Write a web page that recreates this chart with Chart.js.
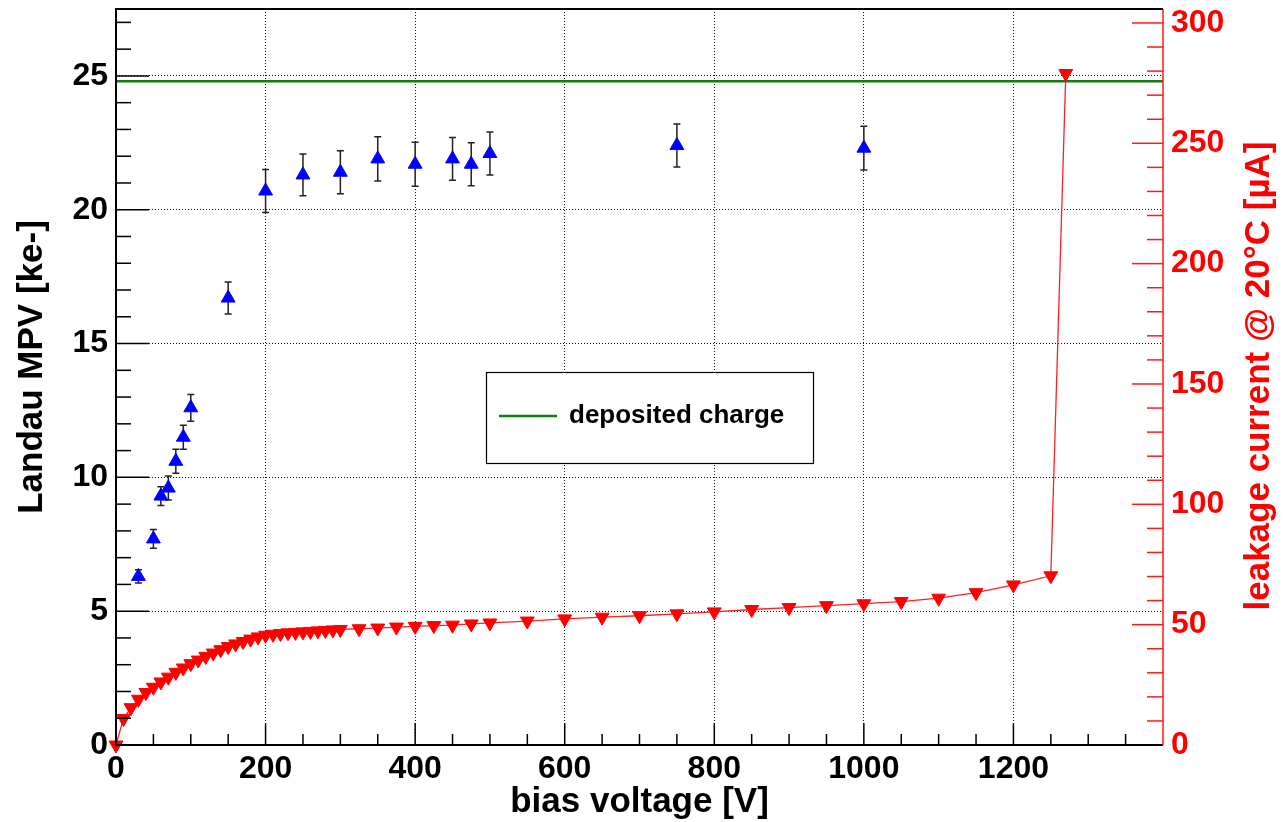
<!DOCTYPE html>
<html>
<head>
<meta charset="utf-8">
<title>Landau MPV and leakage current vs bias voltage</title>
<script src="https://cdn.jsdelivr.net/npm/chart.js@4.4.1/dist/chart.umd.min.js"></script>
<style>
  html, body { margin: 0; padding: 0; background: #fff; }
  canvas { display: block; }
</style>
</head>
<body>
<canvas id="chart" width="1284" height="822"></canvas>
<script>
// Landau most probable value of the collected charge [ke-]
const biasVoltage = [30, 50, 60, 70, 80, 90, 100, 150, 200, 250, 300, 350, 400, 450, 475, 500, 750, 1000];
const landauMpv = [6.3, 7.7, 9.3, 9.6, 10.6, 11.5, 12.6, 16.7, 20.7, 21.3, 21.4, 21.9, 21.7, 21.9, 21.7, 22.1, 22.4, 22.3];
const landauMpvErr = [0.25, 0.35, 0.35, 0.45, 0.45, 0.45, 0.5, 0.6, 0.8, 0.78, 0.8, 0.83, 0.82, 0.8, 0.8, 0.8, 0.8, 0.82];

// IV scan, leakage current at 20°C [µA]
const ivVoltage = [
  0, 10, 20, 30, 40, 50, 60, 70, 80, 90, 100, 110, 120, 130, 140, 150, 160, 170, 180, 190,
  200, 210, 220, 230, 240, 250, 260, 270, 280, 290, 300, 325, 350, 375, 400, 425, 450, 475, 500,
  550, 600, 650, 700, 750, 800, 850, 900, 950, 1000, 1050, 1100, 1150, 1200, 1250, 1270
];
const leakageCurrent = [
  0, 11, 15.5, 19, 21.8, 24, 26.2, 28.2, 30.2, 32, 33.8, 35.3, 36.8, 38.2, 39.6, 40.9, 42, 43, 44, 44.9,
  45.6, 46, 46.3, 46.6, 46.8, 47, 47.2, 47.4, 47.6, 47.8, 48, 48.3, 48.6, 49, 49.3, 49.6, 49.8, 50.3, 50.7,
  51.5, 52.4, 53.1, 53.7, 54.5, 55.3, 56.3, 57.1, 57.9, 58.7, 59.6, 61.0, 63.3, 66.5, 70.3, 279
];

const depositedCharge = 24.8;

const xTickValues = [0, 200, 400, 600, 800, 1000, 1200];
const leftTickValues = [0, 5, 10, 15, 20, 25];
const rightTickValues = [0, 50, 100, 150, 200, 250, 300];

const FONT = '"Liberation Sans", Arial, Helvetica, sans-serif';
const GREEN = '#127d12';

function setTicks(values) {
  return function (scale) {
    scale.ticks = values.map(v => ({ value: v }));
  };
}

// fixed axis box sizes, no extra room for the outermost labels
function fixWidth(w) {
  return function (scale) {
    scale.width = w;
    scale.paddingTop = 0;
    scale.paddingBottom = 0;
  };
}

// ROOT style frame: inner tick marks, axis titles, legend box, error bars
const rootStyle = {
  id: 'rootStyle',
  beforeDatasetsDraw(chart) {
    const { ctx, scales: { x, y } } = chart;
    ctx.save();
    ctx.strokeStyle = '#222';
    ctx.lineWidth = 1.5;
    biasVoltage.forEach((v, i) => {
      const px = x.getPixelForValue(v);
      const top = y.getPixelForValue(landauMpv[i] + landauMpvErr[i]);
      const bot = y.getPixelForValue(landauMpv[i] - landauMpvErr[i]);
      ctx.beginPath();
      ctx.moveTo(px, top); ctx.lineTo(px, bot);
      ctx.moveTo(px - 3.5, top); ctx.lineTo(px + 3.5, top);
      ctx.moveTo(px - 3.5, bot); ctx.lineTo(px + 3.5, bot);
      ctx.stroke();
    });
    ctx.restore();
  },
  afterDatasetsDraw(chart) {
    const { ctx, chartArea: a, scales: { x, y, y1 } } = chart;
    ctx.save();
    ctx.lineCap = 'butt';

    // x axis ticks
    ctx.strokeStyle = '#000';
    ctx.lineWidth = 1.5;
    for (let v = 0; v < x.max; v += 50) {
      const px = x.getPixelForValue(v);
      const len = v % 200 === 0 ? 22 : 11;
      ctx.beginPath(); ctx.moveTo(px, a.bottom); ctx.lineTo(px, a.bottom - len); ctx.stroke();
    }
    // left axis ticks
    for (let v = 0; v < y.max; v += 1) {
      const py = y.getPixelForValue(v);
      const len = v % 5 === 0 ? 33 : 15;
      ctx.beginPath(); ctx.moveTo(a.left, py); ctx.lineTo(a.left + len, py); ctx.stroke();
    }
    // right axis ticks
    ctx.strokeStyle = '#ff1a1a';
    for (let v = 0; v <= 300; v += 10) {
      const py = y1.getPixelForValue(v);
      const len = v % 50 === 0 ? 31 : 16;
      ctx.beginPath(); ctx.moveTo(a.right, py); ctx.lineTo(a.right - len, py); ctx.stroke();
    }

    // frame
    ctx.strokeStyle = '#000';
    ctx.lineWidth = 2;
    ctx.beginPath();
    ctx.moveTo(a.right, a.top); ctx.lineTo(a.left, a.top);
    ctx.lineTo(a.left, a.bottom); ctx.lineTo(a.right, a.bottom);
    ctx.stroke();
    ctx.strokeStyle = '#ff1a1a';
    ctx.lineWidth = 1.5;
    ctx.beginPath(); ctx.moveTo(a.right, a.top); ctx.lineTo(a.right, a.bottom); ctx.stroke();
    ctx.restore();
  },
  afterDraw(chart) {
    const { ctx, chartArea: a } = chart;
    ctx.save();
    ctx.font = 'bold 35px ' + FONT;
    ctx.textAlign = 'center';
    ctx.textBaseline = 'middle';

    // axis titles
    ctx.fillStyle = '#000';
    ctx.fillText('bias voltage [V]', (a.left + a.right) / 2, chart.height - 20);
    ctx.save();
    ctx.translate(32, 367);
    ctx.rotate(-Math.PI / 2);
    ctx.fillText('Landau MPV [ke-]', 0, 0);
    ctx.restore();
    ctx.save();
    ctx.fillStyle = '#ff0000';
    ctx.translate(1259, 376);
    ctx.rotate(-Math.PI / 2);
    ctx.fillText('leakage current @ 20°C [µA]', 0, 0);
    ctx.restore();

    // legend
    const ds = chart.data.datasets[2];
    const bx = 486, by = 372, bw = 327, bh = 91;
    ctx.fillStyle = '#fff';
    ctx.fillRect(bx, by, bw, bh);
    ctx.strokeStyle = '#000';
    ctx.lineWidth = 1.2;
    ctx.strokeRect(bx + 0.5, by + 0.5, bw, bh);
    ctx.strokeStyle = ds.borderColor;
    ctx.lineWidth = 2.5;
    ctx.beginPath(); ctx.moveTo(bx + 13, by + 44); ctx.lineTo(bx + 71, by + 44); ctx.stroke();
    ctx.fillStyle = '#000';
    ctx.font = 'bold 26px ' + FONT;
    ctx.textAlign = 'left';
    ctx.fillText(ds.label, bx + 83, by + 44);
    ctx.restore();
  }
};

new Chart(document.getElementById('chart'), {
  type: 'line',
  data: {
    datasets: [
      {
        label: 'Landau MPV',
        data: biasVoltage.map((v, i) => ({ x: v, y: landauMpv[i] })),
        yAxisID: 'y',
        showLine: false,
        pointStyle: 'triangle',
        pointRadius: 8,
        pointBackgroundColor: '#0000ff',
        pointBorderColor: '#0000ff',
        pointBorderWidth: 1,
        clip: false,
        order: 0
      },
      {
        label: 'leakage current',
        data: ivVoltage.map((v, i) => ({ x: v, y: leakageCurrent[i] })),
        yAxisID: 'y1',
        borderColor: '#ff2020',
        borderWidth: 1.3,
        tension: 0,
        pointStyle: 'triangle',
        pointRotation: 180,
        pointRadius: 8,
        pointBackgroundColor: '#ff0000',
        pointBorderColor: '#ff0000',
        pointBorderWidth: 1,
        clip: false,
        order: 1
      },
      {
        label: 'deposited charge',
        data: [{ x: 0, y: depositedCharge }, { x: 1400, y: depositedCharge }],
        yAxisID: 'y',
        borderColor: GREEN,
        borderWidth: 2.5,
        pointRadius: 0,
        order: 2
      }
    ]
  },
  options: {
    responsive: false,
    animation: false,
    events: [],
    layout: { padding: { top: 9, left: 0, right: 0, bottom: 0 } },
    plugins: {
      legend: { display: false },
      tooltip: { enabled: false }
    },
    scales: {
      x: {
        type: 'linear',
        min: 0,
        max: 1400,
        afterBuildTicks: setTicks(xTickValues),
        afterFit(scale) {
          scale.height = 77;
          scale.paddingLeft = 0;
          scale.paddingRight = 0;
        },
        grid: { color: '#111', lineWidth: 1, drawTicks: false },
        border: { display: false, dash: [1, 2] },
        ticks: {
          autoSkip: false,
          maxRotation: 0,
          padding: 5,
          color: '#000',
          font: { family: FONT, size: 32, weight: 'bold' },
          callback: v => String(v)
        }
      },
      y: {
        type: 'linear',
        position: 'left',
        min: 0,
        max: 27.5,
        afterBuildTicks: setTicks(leftTickValues),
        afterFit: fixWidth(116),
        grid: { color: '#111', lineWidth: 1, drawTicks: false },
        border: { display: false, dash: [1, 2] },
        ticks: {
          padding: 8,
          color: '#000',
          font: { family: FONT, size: 32, weight: 'bold' },
          callback: v => String(v)
        }
      },
      y1: {
        type: 'linear',
        position: 'right',
        min: 0,
        max: 305.8,
        afterBuildTicks: setTicks(rightTickValues),
        afterFit: fixWidth(121),
        grid: { display: false, drawTicks: false },
        border: { display: false },
        ticks: {
          padding: 8,
          color: '#ff0000',
          font: { family: FONT, size: 32, weight: 'bold' },
          callback: v => String(v)
        }
      }
    }
  },
  plugins: [rootStyle]
});
</script>
</body>
</html>
